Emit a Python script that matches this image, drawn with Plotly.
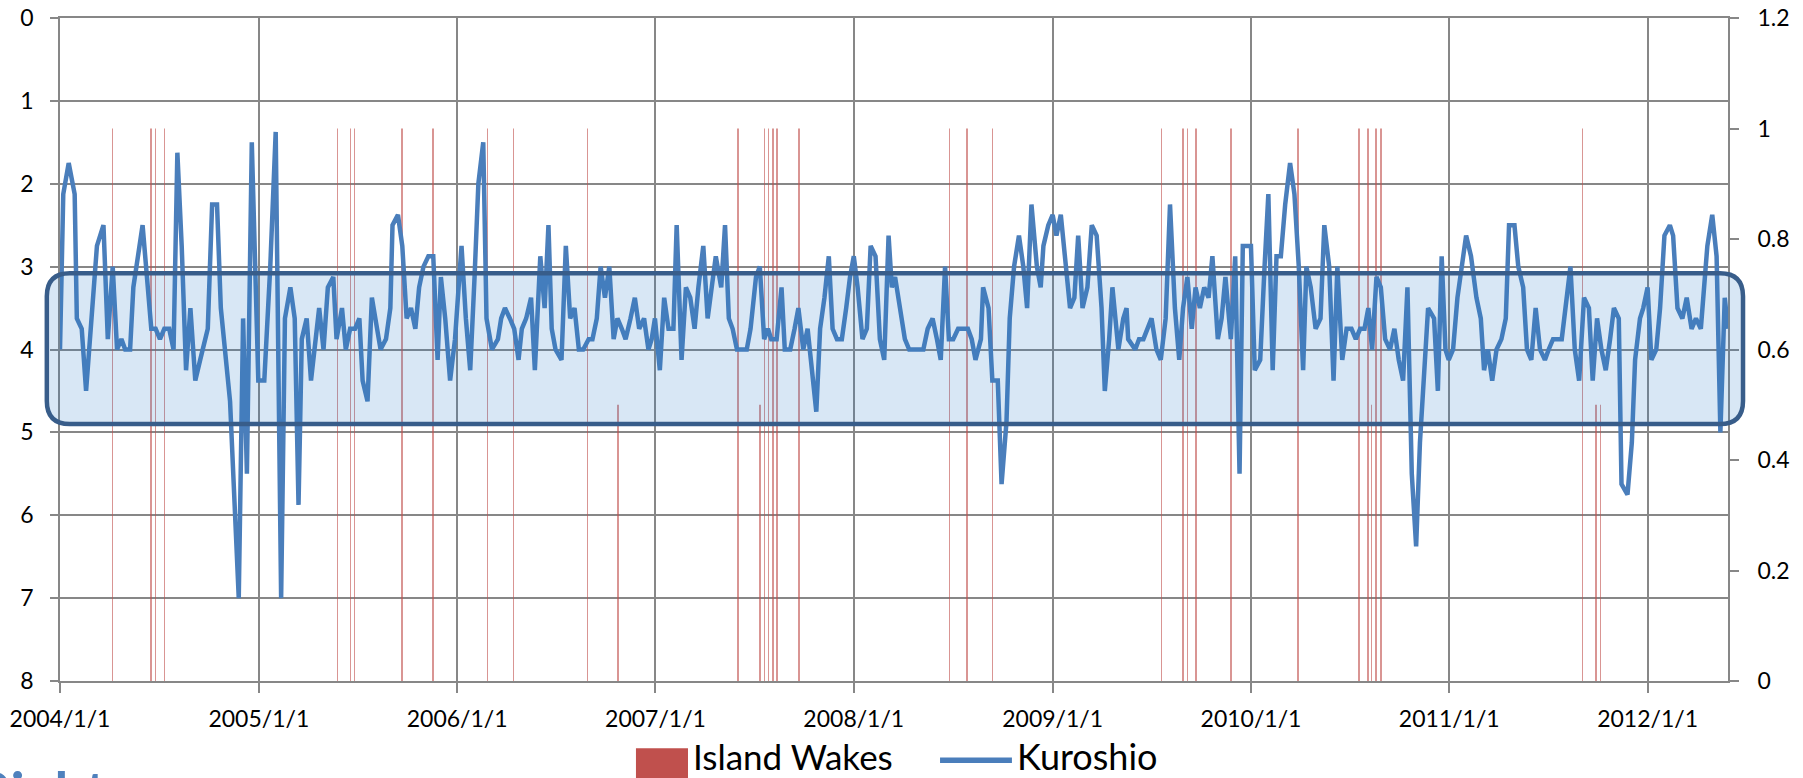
import pandas as pd
import plotly.graph_objects as go

# ---------------- data ----------------
start_date = "2004-01-01"

# Kuroshio index: days since 2004-01-01 and value (left axis, reversed)
kuroshio_day = [
    0, 6, 16, 27, 31, 40, 48, 59, 68, 80, 88, 97, 105, 113, 120, 129, 135, 152, 160, 168,
    176, 184, 192, 201, 209, 216, 224, 232, 240, 249, 258, 266, 272, 280, 289, 296, 313, 329, 337, 344,
    353, 365, 376, 387, 397, 407, 414, 424, 432, 439, 445, 454, 462,
    477, 485, 493, 503, 509, 519, 526, 534, 543, 551, 557, 566, 574, 583, 590, 600, 608, 612, 622,
    630, 638, 646, 654, 661, 669, 678, 687, 695, 701, 709, 718, 727, 735, 739, 747, 755, 763, 770,
    779, 785, 795, 806, 812, 819, 828, 836, 844, 850, 858, 867, 874, 884, 892, 899, 905, 912, 923,
    931, 939, 947, 955, 963,
    973, 980, 988, 995, 1003, 1011, 1019, 1026, 1034, 1041, 1050, 1058, 1066, 1075, 1083, 1089, 1095,
    1104, 1112, 1120, 1129, 1135, 1144, 1152, 1160, 1168, 1175, 1184, 1192, 1200, 1207, 1217, 1224,
    1231, 1238, 1246, 1264, 1271, 1281, 1288, 1296, 1303, 1309, 1319, 1328, 1334, 1344, 1352, 1359,
    1368, 1376, 1384, 1392, 1399, 1407, 1415, 1422, 1430, 1439, 1447, 1454, 1461, 1468,
    1477, 1485, 1492, 1501, 1509, 1517, 1525, 1531, 1537, 1546, 1555, 1563, 1589, 1597, 1606, 1614,
    1621, 1629, 1636, 1644, 1653, 1671, 1678, 1685, 1695, 1699, 1709, 1716, 1726, 1733, 1742, 1748,
    1756, 1765, 1773, 1780, 1788, 1798, 1805, 1810, 1819, 1827, 1834, 1842, 1850, 1859, 1867, 1874,
    1882, 1891, 1899, 1908, 1917, 1923, 1931, 1937, 1948, 1957, 1963,
    1966, 1979, 1986, 1994, 2002, 2009, 2018, 2026, 2035, 2043, 2052, 2060, 2067, 2075, 2083, 2090,
    2098, 2106, 2114, 2121, 2131, 2138, 2145, 2155, 2163, 2171, 2177, 2192, 2199, 2209, 2217, 2224,
    2232, 2239, 2247, 2255, 2264, 2272, 2280, 2288, 2294, 2302, 2311, 2320, 2327, 2336, 2344, 2351,
    2360, 2368, 2377, 2385, 2393, 2401, 2408, 2415, 2423, 2431, 2439, 2448, 2456,
    2464, 2472, 2480, 2488, 2496, 2503, 2511, 2518, 2529, 2536, 2543, 2550, 2556, 2564, 2572, 2580,
    2588, 2597, 2607, 2615, 2621, 2628, 2636, 2644, 2653, 2661, 2667, 2677, 2684, 2693, 2700, 2708,
    2716, 2724, 2733, 2740, 2748, 2764, 2771, 2780, 2788, 2796, 2805, 2814, 2821, 2829, 2837, 2845,
    2853, 2860, 2869, 2874, 2885, 2893, 2899, 2908, 2914, 2922, 2929, 2938, 2945, 2953, 2963,
    2969, 2977, 2986, 2994, 3003, 3011, 3020, 3032, 3041, 3049, 3056, 3064, 3070,
]
kuroshio_value = [
    4.0, 2.125, 1.75, 2.125, 3.625, 3.75, 4.5, 3.625, 2.75, 2.5, 3.875, 3.0, 4.0, 3.875, 4.0, 4.0, 3.25, 2.5, 3.125, 3.75,
    3.75, 3.875, 3.75, 3.75, 4.0, 1.625, 2.75, 4.25, 3.5, 4.375, 4.125, 3.875, 3.75, 2.25, 2.25, 3.5, 4.625, 7.0, 3.625, 5.5,
    1.5, 4.375, 4.375, 3.0, 1.375, 7.0, 3.625, 3.25, 3.625, 5.875, 3.875, 3.625, 4.375,
    3.5, 4.0, 3.25, 3.125, 3.875, 3.5, 4.0, 3.75, 3.75, 3.625, 4.375, 4.625, 3.375, 3.75, 4.0, 3.875, 3.5, 2.5, 2.375,
    2.75, 3.625, 3.5, 3.75, 3.25, 3.0, 2.875, 2.875, 4.125, 3.125, 3.625, 4.375, 3.875, 3.125, 2.75, 3.625, 4.25, 3.125, 2.0,
    1.5, 3.625, 4.0, 3.875, 3.625, 3.5, 3.625, 3.75, 4.125, 3.75, 3.625, 3.375, 4.25, 2.875, 3.5, 2.5, 3.75, 4.0, 4.125,
    2.75, 3.625, 3.5, 4.0, 4.0,
    3.875, 3.875, 3.625, 3.0, 3.375, 3.0, 3.875, 3.625, 3.75, 3.875, 3.625, 3.375, 3.75, 3.625, 4.0, 3.875, 3.625,
    4.25, 3.375, 3.75, 3.75, 2.5, 4.125, 3.25, 3.375, 3.75, 3.25, 2.75, 3.625, 3.25, 2.875, 3.25, 2.5,
    3.625, 3.75, 4.0, 4.0, 3.75, 3.125, 3.0, 3.875, 3.75, 3.875, 3.875, 3.25, 4.0, 4.0, 3.75, 3.5,
    4.0, 3.75, 4.25, 4.75, 3.75, 3.375, 2.875, 3.75, 3.875, 3.875, 3.5, 3.125, 2.875, 3.25,
    3.875, 3.75, 2.75, 2.875, 3.875, 4.125, 2.625, 3.25, 3.125, 3.5, 3.875, 4.0, 4.0, 3.75, 3.625, 3.875,
    4.125, 3.0, 3.875, 3.875, 3.75, 3.75, 3.875, 4.125, 3.875, 3.25, 3.5, 4.375, 4.375, 5.625, 4.875, 3.625,
    3.0, 2.625, 3.0, 3.5, 2.25, 3.0, 3.25, 2.75, 2.5, 2.375, 2.625, 2.375, 2.875, 3.5, 3.375, 2.625,
    3.5, 3.25, 2.5, 2.625, 3.5, 4.5, 3.875, 3.25, 4.0, 3.625, 3.5,
    3.875, 4.0, 3.875, 3.875, 3.75, 3.625, 4.0, 4.125, 3.625, 2.25, 3.5, 4.125, 3.5, 3.125, 3.75, 3.25,
    3.5, 3.25, 3.375, 2.875, 3.875, 3.625, 3.125, 3.875, 2.875, 5.5, 2.75, 2.75, 4.25, 4.125, 3.0, 2.125,
    4.25, 2.875, 2.875, 2.25, 1.75, 2.125, 3.0, 4.25, 3.0, 3.25, 3.75, 3.625, 2.5, 3.0, 4.375, 3.0,
    4.125, 3.75, 3.75, 3.875, 3.75, 3.75, 3.5, 4.0, 3.125, 3.25, 3.875, 4.0, 3.75,
    4.125, 4.375, 3.25, 5.5, 6.375, 5.125, 4.125, 3.5, 3.625, 4.5, 2.875, 4.0, 4.125, 4.0, 3.375, 3.0,
    2.625, 2.875, 3.375, 3.625, 4.25, 4.0, 4.375, 4.0, 3.875, 3.625, 2.5, 2.5, 3.0, 3.25, 4.0, 4.125,
    3.5, 4.0, 4.125, 4.0, 3.875, 3.875, 3.5, 3.0, 4.0, 4.375, 3.375, 3.5, 4.375, 3.625, 4.0, 4.25,
    3.875, 3.5, 3.625, 5.625, 5.75, 5.125, 4.125, 3.625, 3.5, 3.25, 4.125, 4.0, 3.5, 2.625, 2.5,
    2.625, 3.5, 3.625, 3.375, 3.75, 3.625, 3.75, 2.75, 2.375, 2.875, 5.0, 3.375, 3.75,
]

# Island wake events: days since 2004-01-01 and value (right axis)
wake_day = [
    97, 168, 176, 192, 511, 535, 542, 630, 686, 787, 835, 971, 1027, 1248, 1288, 1297, 1304,
    1312, 1320, 1360, 1637, 1669, 1716, 2027, 2067, 2075, 2091, 2155, 2279, 2391, 2407, 2414,
    2422, 2431, 2802, 2827, 2835,
]
wake_value = [
    1, 1, 1, 1, 1, 1, 1, 1, 1, 1, 1, 1, 0.5, 1, 0.5, 1, 1,
    1, 1, 1, 1, 1, 1, 1, 1, 1, 1, 1, 1, 1, 1, 0.5,
    1, 1, 1, 0.5, 0.5,
]

left_ticks = [0, 1, 2, 3, 4, 5, 6, 7, 8]
right_ticks = [0, 0.2, 0.4, 0.6, 0.8, 1.0, 1.2]

# highlighted band (left-axis units)
band_top = 3.08
band_bottom = 4.90

# ---------------- build ----------------
t0 = pd.Timestamp(start_date)
k_dates = [(t0 + pd.Timedelta(days=d)).strftime("%Y-%m-%d") for d in kuroshio_day]
w_dates = [(t0 + pd.Timedelta(days=d)).strftime("%Y-%m-%d") for d in wake_day]

GRID = "#878787"
BLUE = "#4A7EBB"
RED = "#C0504D"
FONT = "Lato"

fig = go.Figure()
fig.add_trace(go.Bar(
    x=w_dates, y=wake_value, name="Island Wakes", yaxis="y", showlegend=False,
    width=86400000 * 1.1, marker=dict(color=RED, line=dict(width=0)), opacity=0.6,
))
fig.add_trace(go.Scatter(
    x=k_dates, y=kuroshio_value, name="Kuroshio", yaxis="y2", mode="lines", showlegend=False,
    line=dict(color=BLUE, width=4.5, shape="linear"),
))

# rounded highlight box
x0, x1 = -0.0079, 1.009
rx, ry = 0.0138, 0.278
path = (
    f"M {x0+rx},{band_top} L {x1-rx},{band_top} Q {x1},{band_top} {x1},{band_top+ry} "
    f"L {x1},{band_bottom-ry} Q {x1},{band_bottom} {x1-rx},{band_bottom} "
    f"L {x0+rx},{band_bottom} Q {x0},{band_bottom} {x0},{band_bottom-ry} "
    f"L {x0},{band_top+ry} Q {x0},{band_top} {x0+rx},{band_top} Z"
)
fig.add_shape(type="path", path=path, xref="paper", yref="y2", layer="above",
              fillcolor="rgba(40,120,200,0.18)", line=dict(color="#385D8A", width=4.5))

# legend (drawn to match the large swatches of the original)
fig.add_shape(type="rect", xref="paper", yref="paper", x0=0.3453, x1=0.3765, y0=-0.1015, y1=-0.2,
              fillcolor=RED, line=dict(width=0), layer="above")
fig.add_annotation(text="Island Wakes", xref="paper", yref="paper", x=0.3785, y=-0.1125,
                   xanchor="left", yanchor="middle", showarrow=False,
                   font=dict(family=FONT, size=35, color="black"))
fig.add_shape(type="line", xref="paper", yref="paper", x0=0.5276, x1=0.5707, y0=-0.1195, y1=-0.1195,
              line=dict(color=BLUE, width=5.5), layer="above")
fig.add_annotation(text="Kuroshio", xref="paper", yref="paper", x=0.5725, y=-0.1125,
                   xanchor="left", yanchor="middle", showarrow=False,
                   font=dict(family=FONT, size=36, color="black"))

fig.add_annotation(text="<b>Right</b>", xref="paper", yref="paper", x=-0.052, y=-0.112,
                   xanchor="left", yanchor="top", showarrow=False,
                   font=dict(family=FONT, size=56, color="#4F81BD"))

fig.update_layout(
    width=1803, height=778,
    margin=dict(l=60, r=75, t=18, b=97, autoexpand=False),
    paper_bgcolor="white", plot_bgcolor="white",
    font=dict(family=FONT, size=22, color="black"),
    showlegend=False,
    xaxis=dict(
        type="date", range=[k_dates[0], k_dates[-1]], tick0=start_date, dtick="M12",
        tickformat="%Y/%-m/%-d", showgrid=True, gridcolor=GRID, gridwidth=1.8,
        ticks="outside", ticklen=10, tickcolor=GRID, tickwidth=1.8,
        showline=True, linecolor=GRID, linewidth=1.8, mirror=True, zeroline=False,
        ticklabelstandoff=6,
        tickfont=dict(family=FONT, size=23, color="black"),
    ),
    yaxis=dict(
        range=[0, 1.2], tickvals=right_ticks, side="right", showgrid=False, zeroline=False,
        ticks="outside", ticklen=9, tickcolor=GRID, tickwidth=1.8,
        showline=True, linecolor=GRID, linewidth=1.8, ticklabelstandoff=14,
        tickfont=dict(family=FONT, size=23, color="black"),
    ),
    yaxis2=dict(
        range=[8, 0], tickvals=left_ticks, overlaying="y", side="left", showgrid=True,
        gridcolor=GRID, gridwidth=1.8, zeroline=False,
        ticks="outside", ticklen=8, tickcolor=GRID, tickwidth=1.8,
        showline=True, linecolor=GRID, linewidth=1.8, ticklabelstandoff=12,
        tickfont=dict(family=FONT, size=23, color="black"),
    ),
)

fig.write_html("out.html", config={"displayModeBar": False},
               post_script="document.body.style.margin='0';document.body.style.overflow='hidden';")
